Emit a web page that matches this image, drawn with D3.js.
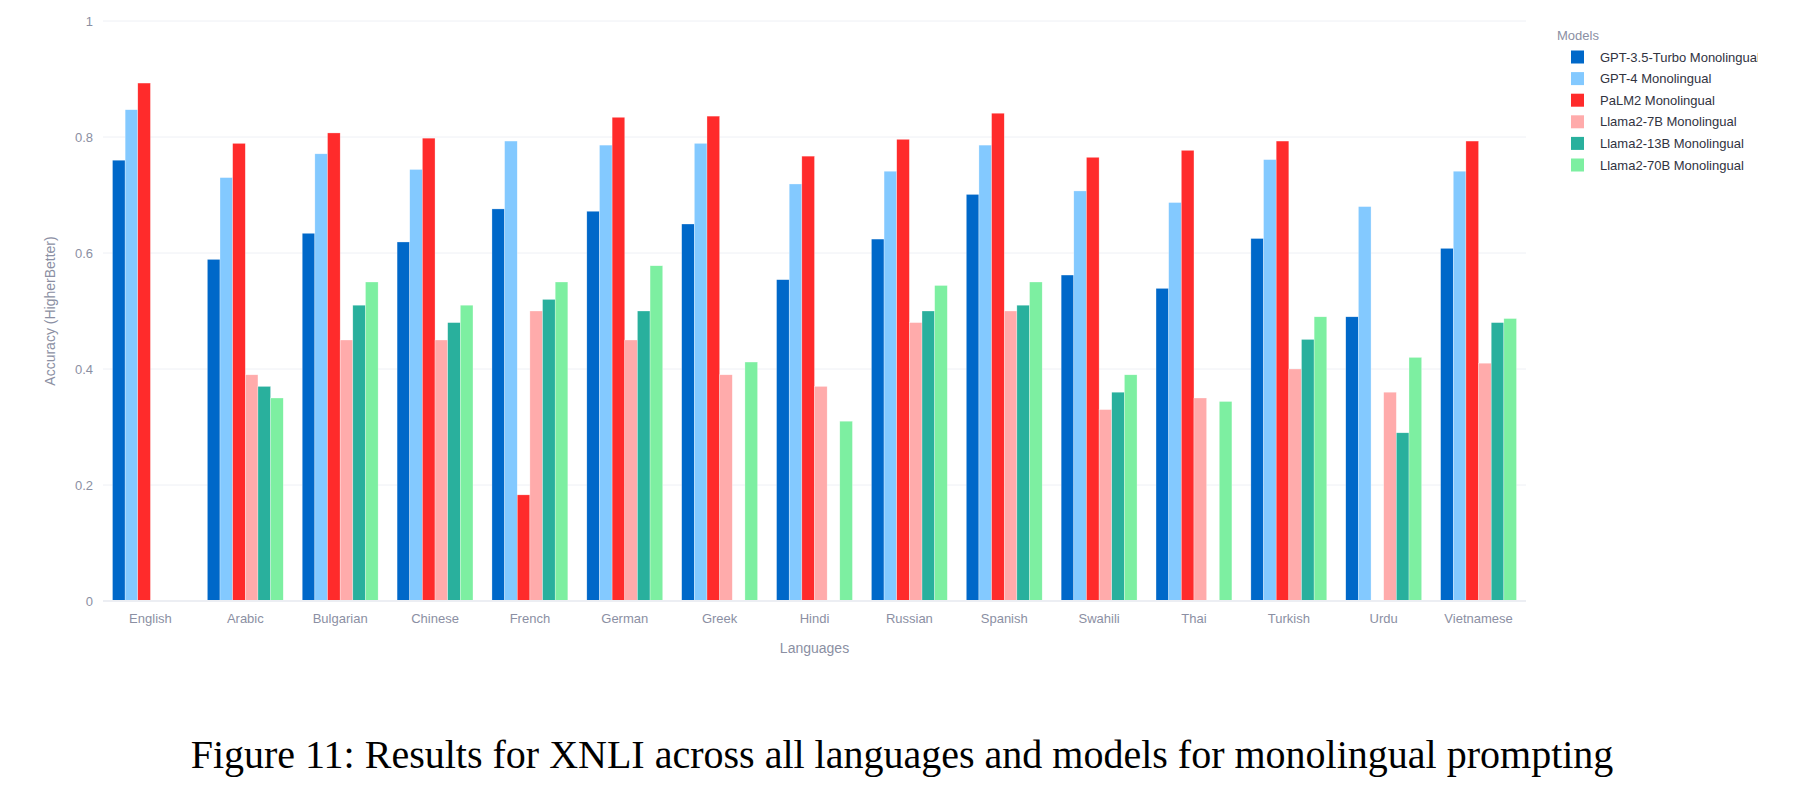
<!DOCTYPE html>
<html>
<head>
<meta charset="utf-8">
<script src="https://cdn.jsdelivr.net/npm/d3@7"></script>
<style>
  html, body { margin: 0; padding: 0; background: #ffffff; }
  svg { display: block; }
</style>
</head>
<body>
<div id="chart"></div>
<script>
// ---- data ----
const languages = ["English","Arabic","Bulgarian","Chinese","French","German","Greek","Hindi","Russian","Spanish","Swahili","Thai","Turkish","Urdu","Vietnamese"];
const models = ["GPT-3.5-Turbo Monolingual","GPT-4 Monolingual","PaLM2 Monolingual","Llama2-7B Monolingual","Llama2-13B Monolingual","Llama2-70B Monolingual"];
const gpt35   = [0.760,0.589,0.634,0.619,0.676,0.672,0.650,0.554,0.624,0.701,0.562,0.539,0.625,0.490,0.608];
const gpt4    = [0.847,0.730,0.771,0.744,0.793,0.786,0.789,0.719,0.741,0.786,0.707,0.687,0.761,0.680,0.741];
const palm2   = [0.893,0.789,0.807,0.798,0.183,0.834,0.836,0.767,0.796,0.841,0.765,0.777,0.793,null,0.793];
const llama7  = [null,0.39,0.45,0.45,0.50,0.45,0.39,0.37,0.48,0.50,0.33,0.35,0.40,0.36,0.41];
const llama13 = [null,0.37,0.51,0.48,0.52,0.50,null,null,0.50,0.51,0.36,null,0.451,0.29,0.48];
const llama70 = [null,0.35,0.55,0.51,0.55,0.578,0.412,0.31,0.544,0.55,0.39,0.344,0.49,0.42,0.487];
const seriesValues = [gpt35, gpt4, palm2, llama7, llama13, llama70];
const colors = ["#0068c9","#83c9ff","#ff2b2b","#ffabab","#29b09d","#7defa1"];
const yTicks = [0, 0.2, 0.4, 0.6, 0.8, 1];
const yTickLabels = ["0","0.2","0.4","0.6","0.8","1"];
const xTitle = "Languages";
const yTitle = "Accuracy (HigherBetter)";
const legendTitle = "Models";
const caption = "Figure 11: Results for XNLI across all languages and models for monolingual prompting";

// ---- layout ----
const W = 1819, H = 811;
const plot = { left: 103, right: 1526, top: 21, bottom: 601 };
const axisFont = "'Liberation Sans', Arial, Helvetica, sans-serif";
const grey = "#8b8fa3";

const svg = d3.select("#chart").append("svg")
  .attr("width", W).attr("height", H)
  .attr("viewBox", `0 0 ${W} ${H}`);

svg.append("rect").attr("width", W).attr("height", H).attr("fill", "#fff");

const x = d3.scaleBand().domain(languages).range([plot.left, plot.right]).padding(0);
const xInner = d3.scaleBand().domain(models)
  .range([x.bandwidth() * 0.1, x.bandwidth() * 0.9]).padding(0);
const y = d3.scaleLinear().domain([0, 1]).range([plot.bottom, plot.top]);

// gridlines
const grid = svg.append("g");
grid.selectAll("line").data(yTicks.filter(d => d > 0)).join("line")
  .attr("x1", plot.left).attr("x2", plot.right)
  .attr("y1", d => y(d)).attr("y2", d => y(d))
  .attr("stroke", "#eef0f5").attr("stroke-width", 1);

// bars
const table = [];
languages.forEach((lang, i) => {
  models.forEach((m, j) => {
    const v = seriesValues[j][i];
    if (v !== null && v !== undefined) table.push({ lang, model: m, value: v, color: colors[j] });
  });
});

svg.append("g").selectAll("rect").data(table).join("rect")
  .attr("x", d => x(d.lang) + xInner(d.model))
  .attr("width", xInner.bandwidth())
  .attr("y", d => y(d.value))
  .attr("height", d => y(0) - y(d.value))
  .attr("fill", d => d.color)
  .attr("stroke", "#ffffff").attr("stroke-width", 0.5).attr("stroke-opacity", 0.6);

// zero line
svg.append("line")
  .attr("x1", plot.left).attr("x2", plot.right)
  .attr("y1", y(0)).attr("y2", y(0))
  .attr("stroke", "#eceef3").attr("stroke-width", 2);

// y axis
const yAxis = d3.axisLeft(y).tickValues(yTicks)
  .tickFormat((d, i) => yTickLabels[i]).tickSize(0).tickPadding(10);
const gy = svg.append("g").attr("transform", `translate(${plot.left},0)`).call(yAxis);
gy.select(".domain").remove();
gy.selectAll("text").attr("fill", grey).style("font-family", axisFont).style("font-size", "13px");

// x axis
const xAxis = d3.axisBottom(x).tickSize(0).tickPadding(13);
const gx = svg.append("g").attr("transform", `translate(0,${plot.bottom})`).call(xAxis);
gx.select(".domain").remove();
gx.selectAll("text").attr("fill", grey).style("font-family", axisFont).style("font-size", "13px");

// axis titles
svg.append("text")
  .attr("x", (plot.left + plot.right) / 2).attr("y", 653)
  .attr("text-anchor", "middle").attr("fill", grey)
  .style("font-family", axisFont).style("font-size", "14px")
  .text(xTitle);

svg.append("text")
  .attr("transform", `translate(55,${(plot.top + plot.bottom) / 2}) rotate(-90)`)
  .attr("text-anchor", "middle").attr("fill", grey)
  .style("font-family", axisFont).style("font-size", "14px")
  .text(yTitle);

// legend
svg.append("defs").append("clipPath").attr("id", "legclip")
  .append("rect").attr("x", 1540).attr("y", 0).attr("width", 218).attr("height", 200);

const leg = svg.append("g").attr("clip-path", "url(#legclip)");
leg.append("text").attr("x", 1557).attr("y", 40)
  .attr("fill", grey).style("font-family", axisFont).style("font-size", "13px")
  .text(legendTitle);
const items = leg.selectAll("g.item").data(models).join("g").attr("class", "item")
  .attr("transform", (d, i) => `translate(0,${57 + i * 21.6})`);
items.append("rect").attr("x", 1571).attr("y", -6.5).attr("width", 13).attr("height", 13)
  .attr("fill", (d, i) => colors[i]);
items.append("text").attr("x", 1600).attr("y", 4.5)
  .attr("fill", "#31333f").style("font-family", axisFont).style("font-size", "13px")
  .text(d => d);

// caption
svg.append("text")
  .attr("x", 902).attr("y", 768)
  .attr("text-anchor", "middle").attr("fill", "#000")
  .style("font-family", "'Liberation Serif', 'Times New Roman', serif")
  .style("font-size", "40px")
  .text(caption);
</script>
</body>
</html>
